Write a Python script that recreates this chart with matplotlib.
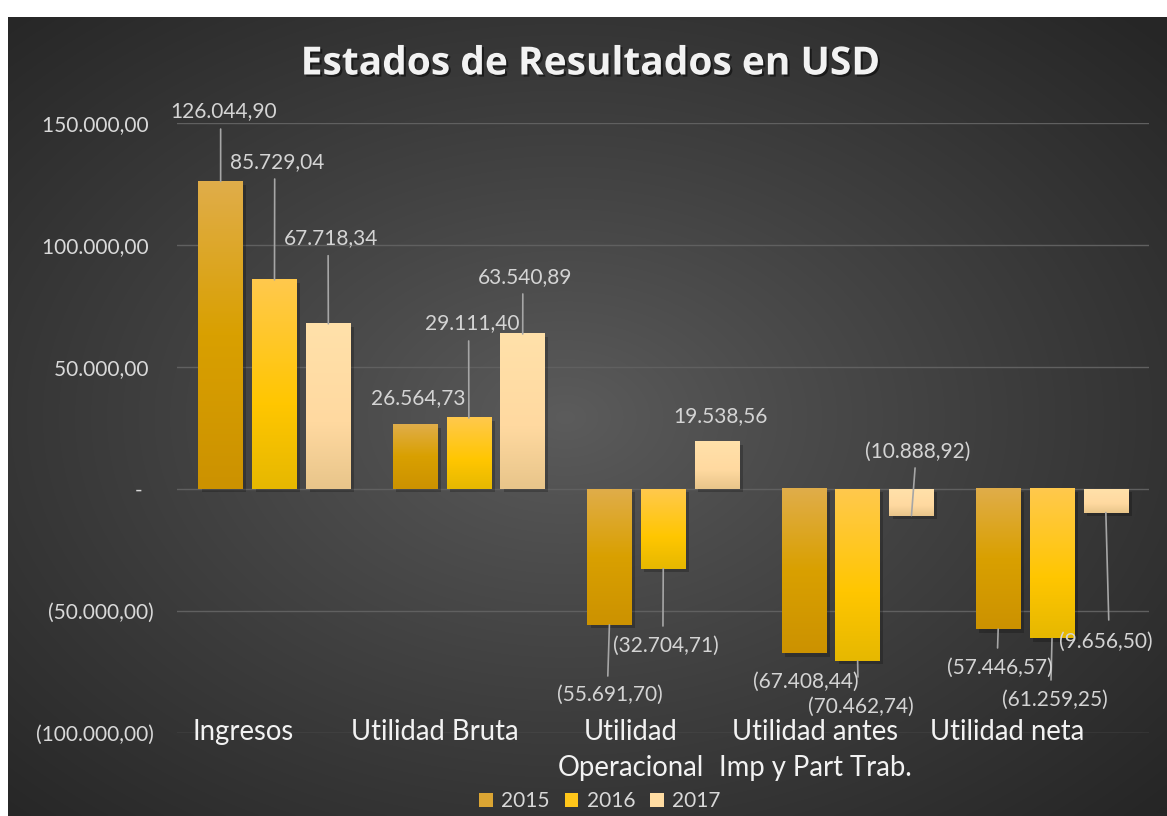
import numpy as np
import matplotlib
matplotlib.use("Agg")
import matplotlib.pyplot as plt
from matplotlib.colors import LinearSegmentedColormap, to_rgb
from matplotlib.patches import Patch
import matplotlib.patheffects as pe

# ---------------- data ----------------
categories = ["Ingresos", "Utilidad Bruta", "Utilidad\nOperacional",
              "Utilidad antes\nImp y Part Trab.", "Utilidad neta"]
years = ["2015", "2016", "2017"]
v2015 = [126044.90, 26564.73, -55691.70, -67408.44, -57446.57]
v2016 = [85729.04, 29111.40, -32704.71, -70462.74, -61259.25]
v2017 = [67718.34, 63540.89, 19538.56, -10888.92, -9656.50]
yticks = [-100000, -50000, 0, 50000, 100000, 150000]
title = "Estados de Resultados en USD"

series = [v2015, v2016, v2017]

# ---------------- styles ----------------
grad_stops = [
    [(0.0, "#e0ad4a"), (0.5, "#d9a000"), (1.0, "#cc9200")],
    [(0.0, "#ffc94d"), (0.6, "#ffc600"), (1.0, "#e6b800")],
    [(0.0, "#ffe1aa"), (0.6, "#ffd9a0"), (1.0, "#e8c58a")],
]
legend_cols = ["#dba533", "#ffc61a", "#ffdca2"]

# label offsets (pixels) relative to bar end, and leader-line end offsets
text_off = [
    [(2.7, 70.4), (2.8, 26.2), (0.1, -70.1), (2.5, -28.5), (2.1, -38.8)],
    [(2.5, 117.8), (3.1, 95.3), (2.7, -77.2), (2.8, -46.1), (3.0, -61.5)],
    [(2.8, 85.8), (2.4, 57.3), (3.0, 25.3), (6.1, 63.6), (0.2, -129.4)],
]
lead_off = [
    [(0, 52.4), None, (-1.6, -51.1), None, (-0.6, -18.8)],
    [(0.2, 100.8), (-0.2, 77), (-0.3, -57.2), (0.3, -16.1), (-1, -41.5)],
    [(-0.2, 68.1), (0.1, 40), None, (3.6, 47.6), (2.9, -107.4)],
]
# horizontal shift (pixels) of category labels, as in the reference
cat_dx = [-31.5, -34, -32.5, -42.7, -45]


def fmt(v):
    s = f"{abs(v):,.2f}".replace(",", "X").replace(".", ",").replace("X", ".")
    return f"({s})" if v < 0 else s


def tick_fmt(v):
    if v == 0:
        return "-  "
    s = fmt(v)
    return s if v < 0 else s + " "


FONT = "Lato"
W, H = 1167, 816
fig = plt.figure(figsize=(W / 100, H / 100), dpi=100, facecolor="white")

# ---------------- background (radial gradient) ----------------
bg = fig.add_axes([8 / W, 0, 1 - 8 / W, 1 - 17 / H], zorder=-10)
ny, nx = 400, 580
yy, xx = np.mgrid[0:ny, 0:nx]
cx, cy = nx * 0.48, ny * 0.50
r = np.sqrt(((xx - cx) / (nx / 2)) ** 2 + ((yy - cy) / (ny / 2)) ** 2) / np.sqrt(2)
r = np.clip(r, 0, 1)
c0 = np.array(to_rgb("#5c5c5c"))
c1 = np.array(to_rgb("#262626"))
img = c0[None, None, :] + (c1 - c0)[None, None, :] * r[..., None] ** 0.9
bg.imshow(img, aspect="auto", extent=[0, 1, 0, 1], interpolation="bilinear")
bg.set_axis_off()

# ---------------- main axes ----------------
ax = fig.add_axes([177.3 / W, 83 / H, 971.9 / W, 610 / H])
ax.set_facecolor("none")
for s in ax.spines.values():
    s.set_visible(False)

n = len(categories)
x = np.arange(n)
bw = 0.229
offs = [-0.277, 0.0, 0.277]

for k, vals in enumerate(series):
    cmap = LinearSegmentedColormap.from_list(f"g{k}", grad_stops[k])
    grad = cmap(np.linspace(0, 1, 256))[:, None, :3]
    bars = ax.bar(x + offs[k], vals, width=bw, color=legend_cols[k], zorder=3,
                  linewidth=0)
    for b in bars:
        b.set_path_effects([pe.SimplePatchShadow(offset=(2.5, -2.5), shadow_rgbFace="black",
                                                 alpha=0.22), pe.Normal()])
        x0 = b.get_x()
        y0 = b.get_y()
        h = b.get_height()
        top, bot = max(y0, y0 + h), min(y0, y0 + h)
        ax.imshow(grad, extent=[x0, x0 + bw, bot, top], aspect="auto",
                  interpolation="bilinear", zorder=3.5)
    for i, v in enumerate(vals):
        xi = x[i] + offs[k]
        dx, dy = text_off[k][i]
        ax.annotate(fmt(v), xy=(xi, v), xytext=(dx, dy), textcoords="offset pixels",
                    ha="center", va="center", fontsize=15, color="#d4d4d4",
                    family=FONT, zorder=6, annotation_clip=False)
        lo = lead_off[k][i]
        if lo is not None:
            ax.annotate("", xy=(xi, v), xytext=lo, textcoords="offset pixels",
                        arrowprops=dict(arrowstyle="-", color="#a6a6a6", lw=1.2,
                                        shrinkA=0, shrinkB=0),
                        zorder=5, annotation_clip=False)

ax.set_xlim(-0.5, n - 0.5)
ax.set_ylim(-100000, 150000)
ax.set_xticks([])
ax.set_yticks(yticks)
ax.set_yticklabels([tick_fmt(t) for t in yticks], family=FONT)
ax.tick_params(axis="y", length=0, pad=17, labelsize=15, labelcolor="#d9d9d9")
ax.grid(axis="y", color="#606060", lw=1.0, zorder=0)
ax.set_axisbelow(True)

# category labels
for i, c in enumerate(categories):
    ax.annotate(c, xy=(x[i], -100000), xytext=(cat_dx[i], 14), textcoords="offset pixels",
                ha="center", va="top", fontsize=19.8, color="#f2f2f2",
                family=FONT, linespacing=1.48, multialignment="center",
                zorder=6, annotation_clip=False)

# title
fig.text(590 / W, 1 - 64 / H, title, ha="center", va="center", fontsize=28,
         weight="bold", color="#f2f2f2", family="Open Sans",
         path_effects=[pe.withSimplePatchShadow(offset=(1.5, -1.5),
                                                shadow_rgbFace="black", alpha=0.5)])

# legend
handles = [Patch(facecolor=legend_cols[k], edgecolor="none") for k in range(3)]
leg = fig.legend(handles, years, loc="center", bbox_to_anchor=(600 / W, 1 - 801 / H),
                 ncol=3, frameon=False, labelcolor="#d9d9d9",
                 handlelength=0.65, handleheight=0.65, handletextpad=0.4,
                 columnspacing=0.72, prop={"family": FONT, "size": 15})

fig.savefig("out.png", dpi=100, facecolor="white")
